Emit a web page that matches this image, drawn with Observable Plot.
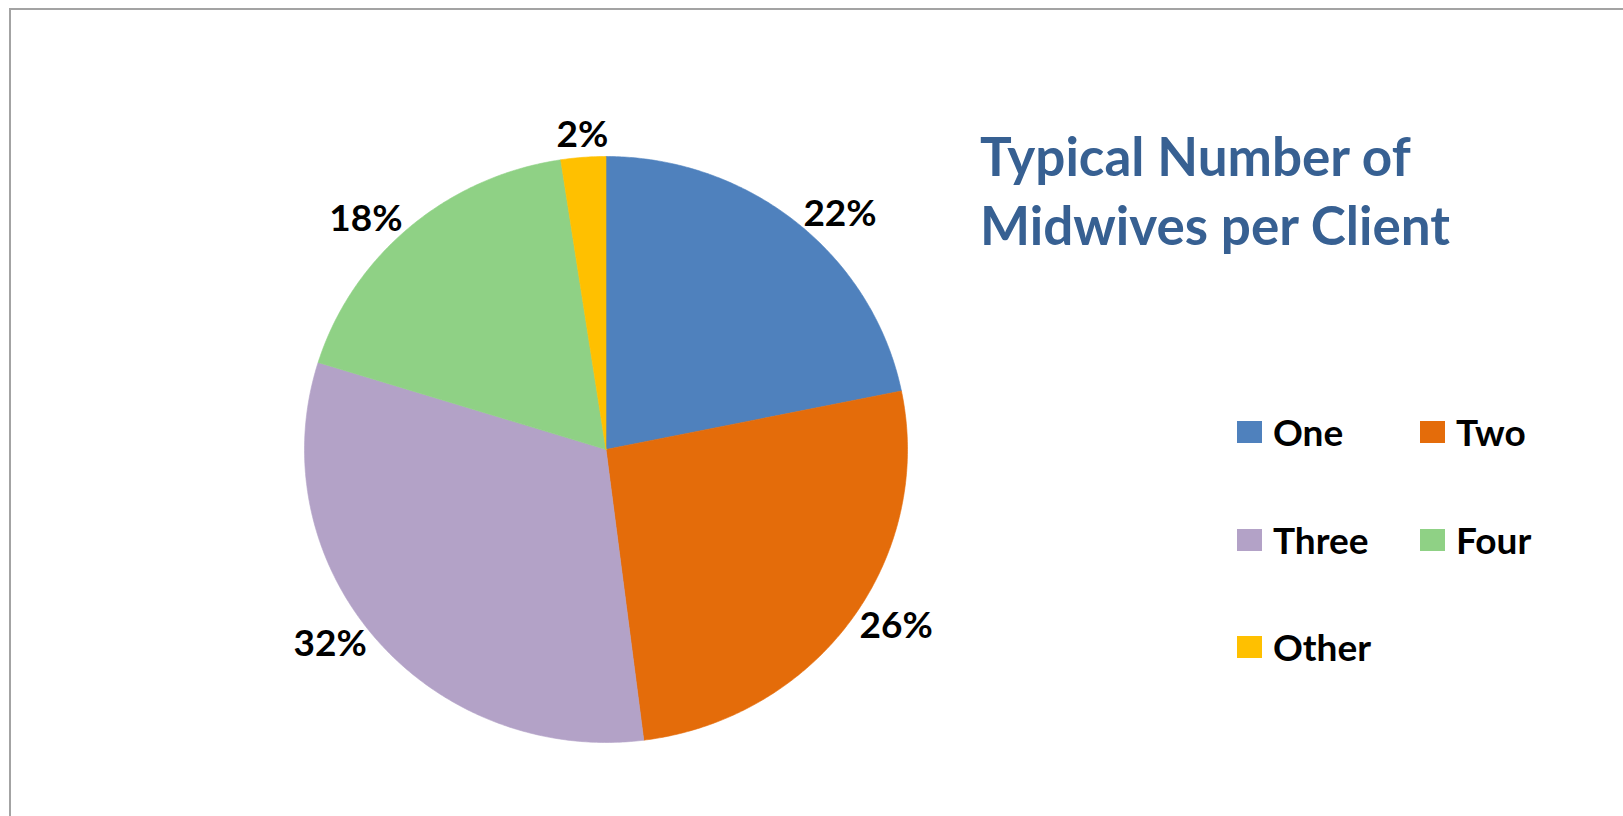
<!DOCTYPE html>
<html>
<head>
<meta charset="utf-8">
<script src="https://cdn.jsdelivr.net/npm/d3@7"></script>
<script src="https://cdn.jsdelivr.net/npm/@observablehq/plot@0.6"></script>
<style>
  html, body { margin: 0; padding: 0; background: #fff; }
  #wrap { position: relative; width: 1623px; height: 816px; overflow: hidden; font-family: Lato, "Open Sans", sans-serif; }
  #frame { position: absolute; left: 9px; top: 8px; width: 1700px; height: 900px; border-top: 2px solid #a3a3a3; border-left: 2px solid #a3a3a3; z-index: 3; pointer-events: none; }
  #chart { position: absolute; left: 0; top: 0; }
  #title { position: absolute; left: 980px; top: 121px; color: #376092; font-weight: bold; font-size: 53px; line-height: 69px; white-space: nowrap; z-index: 2; }
  #legend { position: absolute; left: 0; top: 0; z-index: 2; }
  .item { position: absolute; display: flex; align-items: center; height: 40px; }
  .sw { width: 25px; height: 22px; margin-right: 11px; }
  .lab { font-weight: bold; font-size: 37px; color: #000; line-height: 40px; }
</style>
</head>
<body>
<div id="wrap">
  <div id="frame"></div>
  <div id="chart"></div>
  <div id="title">Typical Number of<br>Midwives per Client</div>
  <div id="legend"></div>
</div>
<script>
// ---- data ----
const categories = ["One", "Two", "Three", "Four", "Other"];
const values = [21.8, 26.2, 31.8, 17.8, 2.4];   // slice shares
const valueLabels = ["22%", "26%", "32%", "18%", "2%"];
const colors = ["#4F81BD", "#E46C0A", "#B3A2C7", "#8FD185", "#FFC000"];

// ---- build slice outlines from the values ----
const total = d3.sum(values);
const slicePoints = [];
const labelRows = [];
let acc = 0;
categories.forEach((c, i) => {
  const a0 = acc / total * 2 * Math.PI;
  acc += values[i];
  const a1 = acc / total * 2 * Math.PI;
  const n = Math.max(2, Math.ceil((a1 - a0) / (Math.PI / 360)));
  slicePoints.push({cat: c, x: 0, y: 0});
  for (let k = 0; k <= n; k++) {
    const a = a0 + (a1 - a0) * k / n;
    slicePoints.push({cat: c, x: Math.sin(a), y: Math.cos(a)});
  }
  slicePoints.push({cat: c, x: 0, y: 0});
  const am = (a0 + a1) / 2;
  const s = Math.sin(am), co = Math.cos(am);
  const r = 1.035;
  labelRows.push({
    cat: c, text: valueLabels[i],
    x: r * s, y: r * co,
    ta: s > 0.3 ? "start" : s < -0.3 ? "end" : "middle",
    la: Math.abs(s) > 0.3 ? "middle" : co > 0 ? "bottom" : "top"
  });
});

const combos = Array.from(new Set(labelRows.map(d => d.ta + "|" + d.la)));
const textMarks = combos.map(key => {
  const [ta, la] = key.split("|");
  return Plot.text(labelRows, {
    filter: d => d.ta === ta && d.la === la,
    x: "x", y: "y", text: "text",
    textAnchor: ta, lineAnchor: la,
    fontSize: 37, fontWeight: "bold", fill: "#000"
  });
});

const chart = Plot.plot({
  width: 1623,
  height: 816,
  margin: 0,
  style: {fontFamily: "Lato, 'Open Sans', sans-serif", background: "transparent", overflow: "visible"},
  x: {domain: [-1, 1], range: [304, 907], axis: null},
  y: {domain: [-1, 1], range: [742, 156], axis: null},
  color: {type: "ordinal", domain: categories, range: colors},
  marks: [
    Plot.line(slicePoints, {x: "x", y: "y", z: "cat", fill: "cat", stroke: "cat", strokeWidth: 0.6, curve: "linear"}),
    ...textMarks
  ]
});
document.getElementById("chart").appendChild(chart);

// ---- legend ----
const legend = document.getElementById("legend");
categories.forEach((c, i) => {
  const col = i % 2, row = Math.floor(i / 2);
  const item = document.createElement("div");
  item.className = "item";
  item.style.left = (1237 + col * 183) + "px";
  item.style.top = (412 + row * 107.5) + "px";
  const sw = document.createElement("div");
  sw.className = "sw";
  sw.style.background = chart.scale("color").apply(c);
  const lab = document.createElement("span");
  lab.className = "lab";
  lab.textContent = c;
  item.appendChild(sw);
  item.appendChild(lab);
  legend.appendChild(item);
});
</script>
</body>
</html>
